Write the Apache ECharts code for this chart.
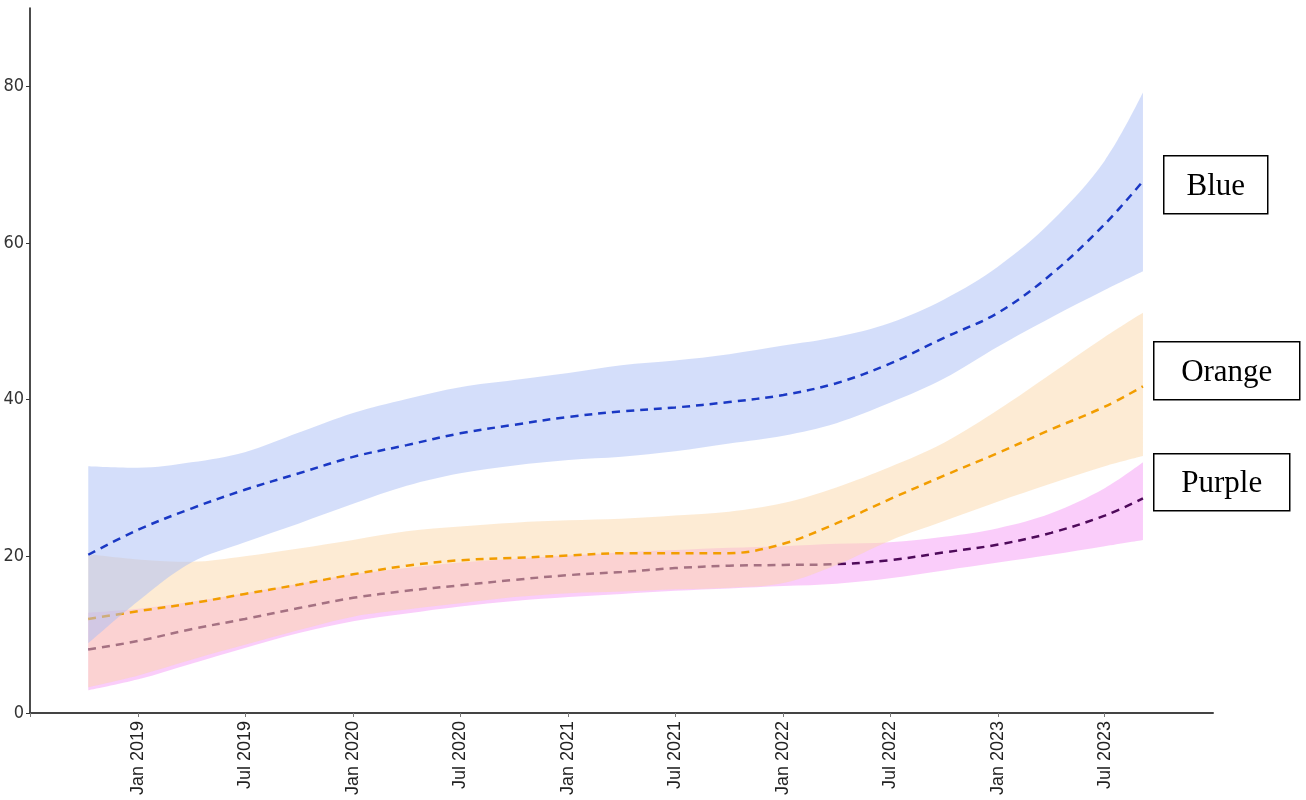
<!DOCTYPE html>
<html>
<head>
<meta charset="utf-8">
<title>Bands</title>
<script src="https://cdn.jsdelivr.net/npm/echarts@6/dist/echarts.min.js"></script>
<style>
  html, body { margin: 0; padding: 0; background: #fff; }
  #chart { width: 1306px; height: 800px; }
</style>
</head>
<body>
<div id="chart"></div>
<script>
// dates of the estimates (quarterly)
var dates = ['2018-10-08', '2019-01-01', '2019-04-01', '2019-07-01', '2019-10-01', '2020-01-01', '2020-04-01',
  '2020-07-01', '2020-10-01', '2021-01-01', '2021-04-01', '2021-07-01', '2021-10-01', '2022-01-01',
  '2022-04-01', '2022-07-01', '2022-10-01', '2023-01-01', '2023-04-01', '2023-07-01', '2023-09-04'];

var blueMid = [20.2, 23.4, 26.1, 28.5, 30.6, 32.7, 34.2, 35.7, 36.8, 37.8, 38.5, 39.0, 39.7, 40.6, 42.1, 44.6, 47.9, 51.1, 56.0, 62.4, 67.9];
var blueHigh = [31.5, 31.3, 32.0, 33.3, 35.8, 38.3, 40.1, 41.6, 42.5, 43.4, 44.4, 45.0, 45.8, 46.9, 48.0, 49.8, 52.8, 57.0, 62.7, 70.5, 79.2];
var blueLow = [8.9, 14.3, 19.2, 21.8, 24.2, 26.7, 29.0, 30.6, 31.6, 32.3, 32.7, 33.4, 34.4, 35.4, 37.0, 39.6, 42.7, 46.8, 50.5, 54.0, 56.4];

var orangeMid = [12.0, 13.0, 14.0, 15.2, 16.4, 17.7, 18.8, 19.5, 19.8, 20.1, 20.4, 20.4, 20.4, 21.6, 24.2, 27.3, 30.3, 33.2, 36.2, 39.1, 41.7];
var orangeHigh = [20.3, 19.6, 19.3, 20.0, 21.0, 22.1, 23.2, 23.8, 24.3, 24.6, 24.8, 25.2, 25.7, 26.8, 28.8, 31.4, 34.5, 38.7, 43.3, 48.0, 51.1];
var orangeLow = [3.3, 4.8, 6.8, 8.7, 10.6, 12.3, 13.2, 14.0, 14.8, 15.3, 15.5, 15.8, 16.0, 16.6, 18.9, 22.0, 24.5, 27.0, 29.3, 31.5, 32.8];

var purpleMid = [8.1, 9.2, 10.7, 12.0, 13.4, 14.7, 15.6, 16.3, 17.0, 17.6, 18.0, 18.5, 18.8, 18.9, 19.0, 19.5, 20.5, 21.5, 23.0, 25.2, 27.4];
var purpleHigh = [12.8, 13.3, 14.2, 15.3, 16.5, 17.7, 18.5, 19.2, 19.7, 20.1, 20.5, 20.8, 21.1, 21.3, 21.6, 21.8, 22.5, 23.6, 25.5, 28.7, 32.0];
var purpleLow = [2.9, 4.3, 6.3, 8.3, 10.2, 11.7, 12.7, 13.6, 14.3, 14.8, 15.2, 15.6, 15.9, 16.2, 16.5, 17.2, 18.2, 19.2, 20.2, 21.3, 22.1];

var tickDates = ['2019-01-01', '2019-07-01', '2020-01-01', '2020-07-01', '2021-01-01', '2021-07-01',
  '2022-01-01', '2022-07-01', '2023-01-01', '2023-07-01'];
var tickLabels = ['Jan 2019', 'Jul 2019', 'Jan 2020', 'Jul 2020', 'Jan 2021', 'Jul 2021',
  'Jan 2022', 'Jul 2022', 'Jan 2023', 'Jul 2023'];

// local-time midnight, same as the time axis ticks
function ts(s) { return new Date(+s.slice(0, 4), +s.slice(5, 7) - 1, +s.slice(8, 10)).getTime(); }
var tickTs = tickDates.map(ts);
var DAY = 86400000;

function pairs(vals) {
  return vals.map(function (v, i) { return [ts(dates[i]), v]; });
}
function diff(hi, lo) {
  return hi.map(function (v, i) { return +(v - lo[i]).toFixed(2); });
}

var SM = 0.35;

// band + dashed line of one group; z keeps the groups layered in order
// (line polylines otherwise sit above every area)
function group(name, lo, hi, mid, fill, color, z) {
  return [
    {
      name: name + ' low', type: 'line', stack: name, smooth: SM, symbol: 'none', z: z,
      lineStyle: { opacity: 0 }, data: pairs(lo), silent: true
    },
    {
      name: name + ' band', type: 'line', stack: name, smooth: SM, symbol: 'none', z: z,
      lineStyle: { opacity: 0 }, areaStyle: { color: fill, opacity: 1 },
      data: pairs(diff(hi, lo)), silent: true
    },
    {
      name: name, type: 'line', smooth: SM, symbol: 'none', z: z,
      lineStyle: { color: color, width: 2.5, type: [8, 6] },
      data: pairs(mid), silent: true
    }
  ];
}

var series = [].concat(
  group('Purple', purpleLow, purpleHigh, purpleMid, 'rgba(245,155,245,0.5)', '#4e0a5a', 2),
  group('Orange', orangeLow, orangeHigh, orangeMid, 'rgba(251,215,169,0.5)', '#f29d00', 3),
  group('Blue', blueLow, blueHigh, blueMid, 'rgba(169,189,245,0.5)', '#1a38c4', 4)
);

function legendBox(label, x, y, w, h) {
  return {
    type: 'group', left: x, top: y,
    children: [
      { type: 'rect', shape: { x: 0, y: 0, width: w, height: h },
        style: { fill: '#fff', stroke: '#000', lineWidth: 1.5 } },
      { type: 'text', x: w / 2, y: h / 2 + 2,
        style: { text: label, fill: '#000', font: '31px "Liberation Serif", "Times New Roman", serif',
          align: 'center', verticalAlign: 'middle' } }
    ]
  };
}

function tickLabel(v) {
  for (var i = 0; i < tickTs.length; i++) {
    if (Math.abs(tickTs[i] - v) < DAY) return tickLabels[i];
  }
  return '';
}

var chart = echarts.init(document.getElementById('chart'), null, { renderer: 'canvas' });
chart.setOption({
  animation: false,
  backgroundColor: '#fff',
  grid: { left: 30, right: 93, top: 8, bottom: 87, containLabel: false },
  xAxis: {
    type: 'time',
    min: ts('2018-07-01'),
    max: ts('2024-01-01'),
    splitNumber: 11,
    minInterval: 180 * DAY,
    maxInterval: 184 * DAY,
    axisLine: { lineStyle: { color: '#444', width: 2 } },
    axisTick: { show: true, length: 4, lineStyle: { color: '#777' } },
    axisLabel: {
      rotate: 90,
      margin: 8,
      color: '#222',
      fontSize: 18,
      fontFamily: '"Liberation Sans", Arial, sans-serif',
      showMinLabel: false,
      showMaxLabel: false,
      hideOverlap: false,
      formatter: tickLabel
    },
    splitLine: { show: false }
  },
  yAxis: {
    type: 'value',
    min: 0,
    max: 90,
    interval: 20,
    axisLine: { show: true, lineStyle: { color: '#111', width: 1.5 } },
    axisTick: { show: true, length: 4, lineStyle: { color: '#333' } },
    axisLabel: {
      showMaxLabel: false,
      margin: 6,
      color: '#333',
      fontSize: 18,
      fontFamily: '"Liberation Sans Narrow", "DejaVu Sans Condensed", sans-serif'
    },
    splitLine: { show: false }
  },
  graphic: [
    legendBox('Blue', 1163, 155, 104, 58),
    legendBox('Orange', 1153, 341, 146, 58),
    legendBox('Purple', 1153, 453, 136, 57)
  ],
  series: series
});
</script>
</body>
</html>
